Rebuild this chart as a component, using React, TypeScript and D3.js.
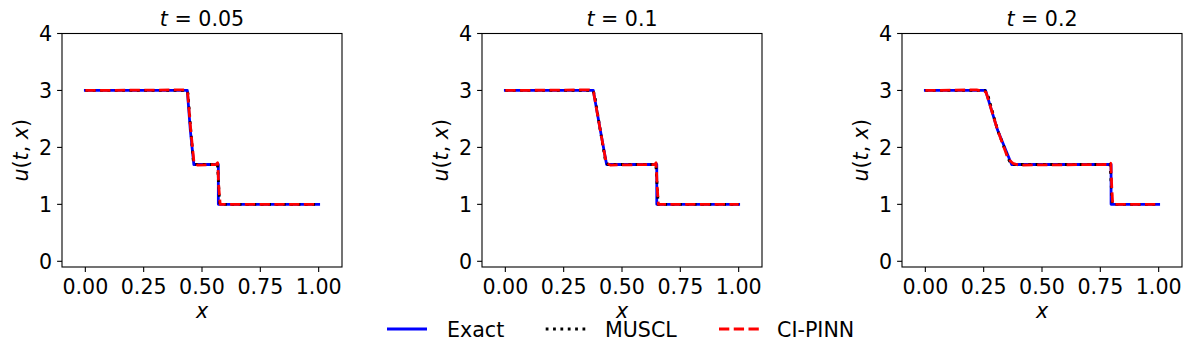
import React from 'react';
import * as d3 from 'd3';

// time of each snapshot
const times = ['0.05', '0.1', '0.2'];

// [x, u] points
const exact05 = [[0, 3], [0.437, 3], [0.45, 2.3], [0.465, 1.7], [0.570, 1.7], [0.570, 1], [1, 1]];
const muscl05 = [[0, 3], [0.434, 3], [0.44, 2.95], [0.452, 2.3], [0.463, 1.75], [0.47, 1.7], [0.566, 1.7], [0.572, 1.3], [0.576, 1], [1, 1]];
const pinn05 = [[0, 3], [0.425, 3.01], [0.438, 2.97], [0.452, 2.3], [0.466, 1.72], [0.48, 1.69], [0.56, 1.7], [0.567, 1.73], [0.572, 1.3], [0.578, 1], [1, 1]];

const exact10 = [[0, 3], [0.377, 3], [0.405, 2.35], [0.434, 1.7], [0.649, 1.7], [0.649, 1], [1, 1]];
const muscl10 = [[0, 3], [0.374, 3], [0.382, 2.94], [0.405, 2.35], [0.43, 1.74], [0.44, 1.7], [0.645, 1.7], [0.651, 1.3], [0.655, 1], [1, 1]];
const pinn10 = [[0, 3], [0.36, 3.01], [0.378, 2.97], [0.405, 2.35], [0.432, 1.73], [0.45, 1.69], [0.64, 1.7], [0.646, 1.73], [0.651, 1.3], [0.656, 1], [1, 1]];

const exact20 = [[0, 3], [0.258, 3], [0.31, 2.3], [0.37, 1.7], [0.796, 1.7], [0.796, 1], [1, 1]];
const muscl20 = [[0, 3], [0.255, 3], [0.268, 2.92], [0.31, 2.3], [0.36, 1.76], [0.38, 1.7], [0.792, 1.7], [0.797, 1.3], [0.801, 1], [1, 1]];
const pinn20 = [[0, 3], [0.22, 3.01], [0.26, 2.97], [0.31, 2.3], [0.355, 1.8], [0.375, 1.72], [0.4, 1.69], [0.79, 1.7], [0.795, 1.72], [0.799, 1.3], [0.803, 1], [1, 1]];

const exactSets = [exact05, exact10, exact20];
const musclSets = [muscl05, muscl10, muscl20];
const pinnSets = [pinn05, pinn10, pinn20];

const xTicks = [0, 0.25, 0.5, 0.75, 1];
const yTicks = [0, 1, 2, 3, 4];

const legendNames = ['Exact', 'MUSCL', 'CI-PINN'];

const FONT = 'DejaVu Sans, sans-serif';
const FS = 20.6;
const LW = 2.78;

const panelLeft = [62, 482, 902];
const panelW = 280;
const top = 33.5;
const bottom = 267;

const styles = [
  { color: '#0000ff', dash: null as string | null },
  { color: '#000000', dash: '2.78,4.58' },
  { color: '#ff0000', dash: '10.3,4.45' },
];

function Panel({ i }: { i: number }) {
  const left = panelLeft[i];
  const x = d3.scaleLinear().domain([-0.1, 1.1]).range([left, left + panelW]);
  const y = d3.scaleLinear().domain([-0.1, 4]).range([bottom, top]);
  const line = d3.line<number[]>().x(d => x(d[0])).y(d => y(d[1]));
  const sets = [exactSets[i], musclSets[i], pinnSets[i]];
  const cx = left + panelW / 2;
  return (
    <g>
      {sets.map((s, k) => (
        <path key={k} d={line(s) || ''} fill="none" stroke={styles[k].color}
          strokeWidth={LW} strokeDasharray={styles[k].dash || undefined}
          strokeLinejoin="round" strokeLinecap={k === 0 ? 'square' : 'butt'} />
      ))}
      <rect x={left} y={top} width={panelW} height={bottom - top} fill="none" stroke="#000" strokeWidth={1.1} />
      {xTicks.map(t => (
        <g key={t}>
          <line x1={x(t)} x2={x(t)} y1={bottom} y2={bottom + 4.9} stroke="#000" strokeWidth={1.1} />
          <text x={x(t)} y={bottom + 26.5} textAnchor="middle" fontFamily={FONT} fontSize={FS}>{t.toFixed(2)}</text>
        </g>
      ))}
      {yTicks.map(t => (
        <g key={t}>
          <line x1={left} x2={left - 4.9} y1={y(t)} y2={y(t)} stroke="#000" strokeWidth={1.1} />
          <text x={left - 9.8} y={y(t) + 7.5} textAnchor="end" fontFamily={FONT} fontSize={FS}>{t}</text>
        </g>
      ))}
      <text x={cx} y={26} textAnchor="middle" fontFamily={FONT} fontSize={FS}>
        <tspan fontStyle="italic">t</tspan><tspan> = {times[i]}</tspan>
      </text>
      <text x={cx} y={318} textAnchor="middle" fontFamily={FONT} fontSize={FS} fontStyle="italic">x</text>
      <text transform={`translate(${left - 34},${(top + bottom) / 2}) rotate(-90)`} textAnchor="middle"
        fontFamily={FONT} fontSize={FS}>
        <tspan fontStyle="italic">u</tspan>(<tspan fontStyle="italic">t</tspan>, <tspan fontStyle="italic">x</tspan>)
      </text>
    </g>
  );
}

function Legend() {
  const xs = [387, 545.7, 719];
  const tx = [447, 605, 777];
  const ly = 329;
  return (
    <g>
      {legendNames.map((n, k) => (
        <g key={n}>
          <line x1={xs[k]} x2={xs[k] + 40} y1={ly} y2={ly} stroke={styles[k].color} strokeWidth={LW}
            strokeDasharray={styles[k].dash || undefined} />
          <text x={tx[k]} y={ly + 7.5} fontFamily={FONT} fontSize={FS}>{n}</text>
        </g>
      ))}
    </g>
  );
}

export default function App() {
  return (
    <svg width={1191} height={359} style={{ position: 'absolute', left: 0, top: 0, background: '#fff' }}>
      <rect width={1191} height={359} fill="#fff" />
      {[0, 1, 2].map(i => <Panel key={i} i={i} />)}
      <Legend />
    </svg>
  );
}
